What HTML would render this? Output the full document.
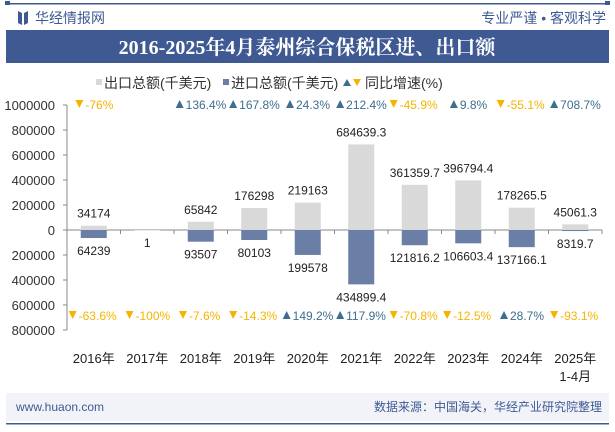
<!DOCTYPE html>
<html><head><meta charset="utf-8"><style>
body{margin:0;width:615px;height:427px;overflow:hidden;background:#fff;font-family:"Liberation Sans","Noto Sans CJK SC",sans-serif;}
</style></head><body>
<svg width="615" height="427" xmlns="http://www.w3.org/2000/svg" font-family="Liberation Sans, Noto Sans CJK SC, sans-serif">
<rect x="6" y="3" width="603" height="1.5" fill="#3f5a93"/>
<rect x="5" y="1" width="5" height="4" fill="#3f5a93"/><rect x="605" y="1" width="5" height="4" fill="#3f5a93"/>
<path d="M18 11 L22 13 L22 25 L18 23 Z M24 13 L28 11 L28 23 L24 25 Z" fill="#3f5a93"/>
<text x="35" y="23" font-size="14" fill="#3f5a93">华经情报网</text>
<text x="606" y="23" font-size="14" fill="#3f5a93" text-anchor="end">专业严谨 • 客观科学</text>
<rect x="6" y="30" width="603" height="33" fill="#3f5a93"/>
<text x="307" y="54" font-size="20" font-weight="bold" fill="#fff" text-anchor="middle" font-family="Liberation Serif, Noto Serif CJK SC, serif">2016-2025年4月泰州综合保税区进、出口额</text>
<g font-size="14" fill="#333">
<rect x="96" y="79" width="6" height="6" fill="#d9d9d9"/><text x="104" y="88">出口总额(千美元)</text>
<rect x="223" y="79" width="6" height="6" fill="#6a7ea6"/><text x="231" y="88">进口总额(千美元)</text>
<path d="M343 86 L347 79 L351 86Z" fill="#3e6e8e"/><path d="M353 79 L361 79 L357 86Z" fill="#f5b400"/><text x="365" y="88">同比增速(%)</text>
</g>
<g id="chart"></g>
<rect x="6" y="393" width="603" height="28" fill="#f1f3f8"/>
<text x="16" y="411" font-size="12" fill="#3f5a93">www.huaon.com</text>
<text x="602" y="411" font-size="12" fill="#3f5a93" text-anchor="end">数据来源：中国海关，华经产业研究院整理</text>
<rect x="6" y="423" width="603" height="1.5" fill="#3f5a93"/>
</svg>
<script>
const categories=["2016年","2017年","2018年","2019年","2020年","2021年","2022年","2023年","2024年","2025年"];
const exportVals=[34174,1,65842,176298,219163,684639.3,361359.7,396794.4,178265.5,45061.3];
const importVals=[64239,0,93507,80103,199578,434899.4,121816.2,106603.4,137166.1,8319.7];
const exportLabels=["34174","1","65842","176298","219163","684639.3","361359.7","396794.4","178265.5","45061.3"];
const importLabels=["64239","","93507","80103","199578","434899.4","121816.2","106603.4","137166.1","8319.7"];
const exportGrowth=[-76,null,136.4,167.8,24.3,212.4,-45.9,9.8,-55.1,708.7];
const importGrowth=[-63.6,-100,-7.6,-14.3,149.2,117.9,-70.8,-12.5,28.7,-93.1];
const ticks=[1000000,800000,600000,400000,200000,0,-200000,-400000,-600000,-800000];
const NS="http://www.w3.org/2000/svg";
const g=document.getElementById('chart');
const x0=67,step=53.5,zeroY=230,scale=125/1000000,bw=26;
const X=i=>x0+step*(i+0.5);
const Y=v=>zeroY-v*scale;
function mk(t,a,p){const e=document.createElementNS(NS,t);for(const k in a)e.setAttribute(k,a[k]);(p||g).appendChild(e);return e;}
const ax=mk('line',{x1:x0,y1:Y(1000000),x2:x0,y2:Y(-800000),stroke:'#888'});


ticks.forEach(t=>{
 mk('line',{x1:x0-4,x2:x0,y1:Y(t),y2:Y(t),stroke:'#888'});
 const tx=mk('text',{x:x0-12,y:Y(t)+5,'font-size':13,fill:'#333','text-anchor':'end'});
 tx.textContent=Math.abs(t);
 
 
});
const zl=mk('line',{x1:x0,x2:x0+step*10,y1:zeroY,y2:zeroY,stroke:'#888'});


for(let i=0;i<=10;i++)mk('line',{x1:x0+step*i,x2:x0+step*i,y1:zeroY,y2:zeroY+4,stroke:'#888'});
function tri(cx,cy,up){return up?`M${cx-4} ${cy+4}L${cx} ${cy-4}L${cx+4} ${cy+4}Z`:`M${cx-4} ${cy-4}L${cx+4} ${cy-4}L${cx} ${cy+4}Z`;}
categories.forEach((c,i)=>{
 const cx=X(i);
 const eb=mk('rect',{x:cx-bw/2,y:Y(exportVals[i]),width:bw,height:Math.max(exportVals[i]*scale,0.5),fill:'#d9d9d9'});
 
 
 const ib=mk('rect',{x:cx-bw/2,y:zeroY,width:bw,height:importVals[i]*scale,fill:'#6a7ea6'});
 
 
 const el=mk('text',{x:cx,y:i==1?zeroY+17:Y(exportVals[i])-8,'font-size':12,fill:'#222','text-anchor':'middle'});
 el.textContent=exportLabels[i];
 
 
 if(importLabels[i]){const il=mk('text',{x:cx,y:Y(-importVals[i])+17,'font-size':12,fill:'#222','text-anchor':'middle'});
 il.textContent=importLabels[i];
 
 }
 [[exportGrowth[i],109],[importGrowth[i],320]].forEach(([v,yy])=>{
  if(v===null)return;const up=v>=0;const col=up?'#3e6e8e':'#f5b400';
  const s=v+'%';
  const w=s.length*6.7+10;const sx=cx-w/2;
  mk('path',{d:tri(sx+4,yy-5,up),fill:col});
  const gt=mk('text',{x:sx+10,y:yy,'font-size':12,fill:col});
  gt.textContent=s;
  
  
 });
 const cl=mk('text',{x:cx,y:363,'font-size':13,fill:'#222','text-anchor':'middle'});
 cl.textContent=c;
 
 
 if(i==9){const c2=mk('text',{x:cx,y:381,'font-size':13,fill:'#222','text-anchor':'middle'});c2.textContent='1-4月';
 
 }
});
</script>
</body></html>
